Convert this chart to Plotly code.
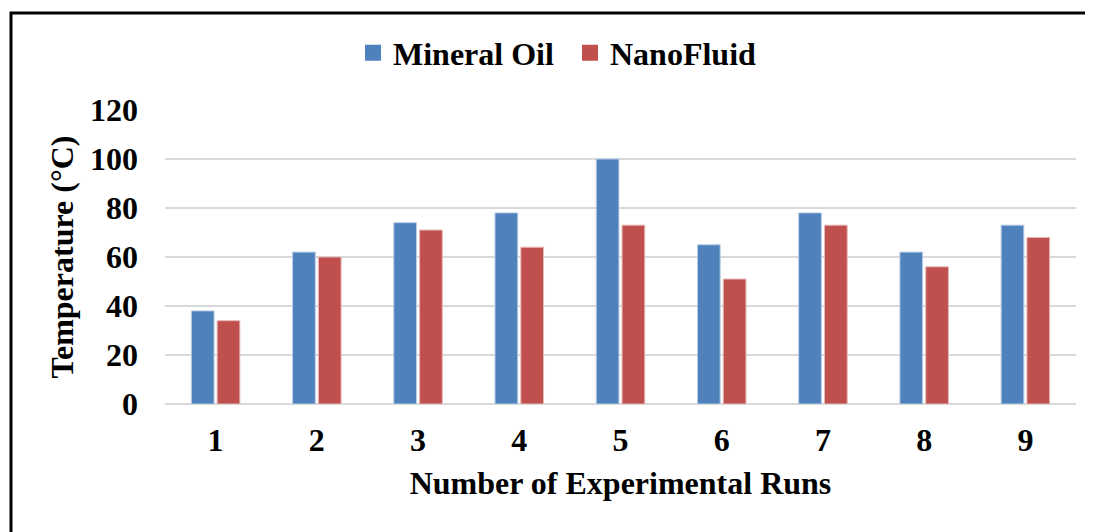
import plotly.graph_objects as go

runs = ["1", "2", "3", "4", "5", "6", "7", "8", "9"]
mineral_oil = [38, 62, 74, 78, 100, 65, 78, 62, 73]
nanofluid = [34, 60, 71, 64, 73, 51, 73, 56, 68]
y_ticks = [0, 20, 40, 60, 80, 100, 120]

series = [("Mineral Oil", mineral_oil, "#4F81BD", "#B9CDE5"),
          ("NanoFluid", nanofluid, "#C0504D", "#E6B9B8")]

# page body adds an 8px offset, so the figure is sized to fit the window
W, H = 1085, 524
ML, MR, MT, MB = 157, 17, 102, 128
FONT = "Liberation Serif"
FS = 32

fig = go.Figure()
for name, vals, col, edge in series:
    fig.add_trace(go.Bar(name=name, x=runs, y=vals, showlegend=False,
                         marker=dict(color=col, line=dict(color=edge, width=1))))
# legend entries with square swatches
legend_ids = ["legend", "legend2"]
for (name, vals, col, edge), lid in zip(series, legend_ids):
    fig.add_trace(go.Scatter(name=name, x=[None], y=[None], mode="markers", legend=lid,
                             marker=dict(symbol="square", size=16, color=col)))

pw = W - ML - MR
ph = H - MT - MB
# outer frame (decorative), from pixel offsets
fx0 = (3 - ML) / pw
fy1 = (H - MB - 5) / ph
fig.add_shape(type="rect", xref="paper", yref="paper",
              x0=fx0, x1=1.2, y0=-1.0, y1=fy1,
              line=dict(color="black", width=3), layer="above")

leg_common = dict(orientation="h", xanchor="left", xref="container",
                  y=1 - 45 / H, yanchor="middle", yref="container",
                  bgcolor="rgba(0,0,0,0)",
                  font=dict(family=FONT, size=FS, color="black", weight="bold"))

fig.update_layout(
    width=W, height=H,
    margin=dict(l=ML, r=MR, t=MT, b=MB, autoexpand=False),
    paper_bgcolor="white", plot_bgcolor="white",
    barmode="group", bargap=0.49, bargroupgap=0.12,
    font=dict(family=FONT, size=FS, color="black"),
    legend=dict(x=345 / W, **leg_common),
    legend2=dict(x=562 / W, **leg_common),
    xaxis=dict(showgrid=False, showline=False, zeroline=False, ticks="", automargin=False,
               tickfont=dict(family=FONT, size=FS, weight="bold"),
               ticklabelstandoff=14,
               title=dict(text="Number of Experimental Runs",
                          font=dict(family=FONT, size=FS, weight="bold"), standoff=14)),
    yaxis=dict(range=[0, 120], tickvals=y_ticks, showgrid=True, gridcolor="#D9D9D9", gridwidth=2,
               zeroline=True, zerolinecolor="#D9D9D9", zerolinewidth=2, showline=False, ticks="",
               automargin=False,
               tickfont=dict(family=FONT, size=FS, weight="bold"),
               ticklabelstandoff=26,
               title=dict(text="Temperature (°C)",
                          font=dict(family=FONT, size=FS, weight="bold"), standoff=6)),
)

fig.write_html("out.html")
